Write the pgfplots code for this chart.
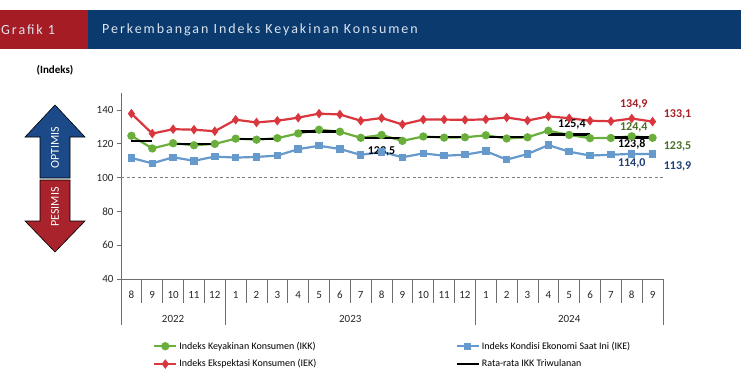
\documentclass[border=0pt]{standalone}
\usepackage{fontspec}
\setmainfont{Carlito}
\newfontfamily\titlefont[LetterSpace=14]{Carlito}
\usepackage{pgfplots}
\pgfplotsset{compat=1.18}
\usepackage{pgfplotstable}

\definecolor{hdrblue}{HTML}{0B3A6E}
\definecolor{hdrred}{HTML}{A51C24}
\definecolor{hdrtext}{HTML}{DCE5F0}
\definecolor{arrowblue}{HTML}{1C4A88}
\definecolor{arrowred}{HTML}{A8232B}
\definecolor{ikk}{HTML}{6AAE3C}
\definecolor{iek}{HTML}{D9363E}
\definecolor{ike}{HTML}{6699CC}
\definecolor{lblred}{HTML}{A81E28}
\definecolor{lblgreen}{HTML}{4A6E26}
\definecolor{lblblue}{HTML}{1F3F75}
\definecolor{axisgray}{HTML}{6E6E6E}

\pgfplotstableread{
i ikk iek ike
0 124.7 137.8 111.6
1 117.2 126.0 108.4
2 120.3 128.6 112.0
3 119.1 128.3 109.9
4 119.9 127.4 112.4
5 123.0 134.2 111.8
6 122.4 132.6 112.2
7 123.3 133.6 113.0
8 126.1 135.4 116.8
9 128.3 137.8 118.8
10 127.1 137.3 116.9
11 123.5 133.6 113.4
12 125.2 135.2 115.2
13 121.7 131.4 112.0
14 124.3 134.3 114.3
15 123.6 134.3 112.9
16 123.8 134.1 113.5
17 125.0 134.4 115.6
18 123.1 135.5 110.6
19 123.8 133.7 113.9
20 127.7 136.2 119.2
21 125.2 135.1 115.3
22 123.3 133.6 113.0
23 123.4 133.3 113.5
24 124.4 134.9 114.0
25 123.5 133.1 113.9
}\datatable

\pgfplotstableread{
i avg
0 121.7
1 121.7
1.5 nan
2 119.8
4 119.8
4.5 nan
5 122.9
7 122.9
7.5 nan
8 127.2
10 127.2
10.5 nan
11 123.5
13 123.5
13.5 nan
14 123.9
16 123.9
16.5 nan
17 124.0
19 124.0
19.5 nan
20 125.4
22 125.4
22.5 nan
23 123.8
25 123.8
}\avgtable

\begin{document}
\begin{tikzpicture}[x=1pt,y=1pt]
\path[use as bounding box] (0,0) rectangle (741,-373);
\fill[hdrblue] (0,-10) rectangle (741,-49);
\fill[hdrred] (0,-10) rectangle (88,-49);
\node[anchor=west, text=hdrtext, inner sep=0pt, font=\titlefont\fontsize{14}{16}\selectfont] at (1,-30) {Grafik 1};
\node[anchor=west, text=hdrtext, inner sep=0pt, font=\titlefont\fontsize{14}{16}\selectfont] at (102,-30) {Perkembangan Indeks Keyakinan Konsumen};
\node[font=\bfseries\fontsize{11}{13}\selectfont] at (55,-70) {(Indeks)};

\draw[black, line width=0.6pt, fill=arrowblue] (55,-105) -- (85,-137) -- (70,-137) -- (70,-178) -- (40,-178) -- (40,-137) -- (25,-137) -- cycle;
\draw[black, line width=0.6pt, fill=arrowred] (40,-180) -- (70,-180) -- (70,-221) -- (85,-221) -- (55,-252) -- (25,-221) -- (40,-221) -- cycle;
\node[rotate=90, text=white, font=\fontsize{12}{14}\selectfont] at (55,-148) {OPTIMIS};
\node[rotate=90, text=white, font=\fontsize{12}{14}\selectfont] at (55,-207) {PESIMIS};

\begin{axis}[
  at={(121pt,-279pt)}, anchor=south west,
  scale only axis, width=542pt, height=186pt,
  xmin=-0.5, xmax=25.5, ymin=40, ymax=150,
  axis x line*=bottom, axis y line*=left,
  axis line style={draw=axisgray, line width=0.8pt},
  tick align=outside, major tick length=4pt,
  ytick={40,60,...,140},
  yticklabel style={font=\fontsize{11}{13}\selectfont, text=black!85},
  ytick style={draw=axisgray, line width=0.8pt},
  xtick={0,...,25},
  xticklabels={8,9,10,11,12,1,2,3,4,5,6,7,8,9,10,11,12,1,2,3,4,5,6,7,8,9},
  major x tick style={draw=none},
  xticklabel style={font=\fontsize{11}{13}\selectfont, text=black!85, anchor=center, yshift=-12pt},
  minor xtick={0.5,1.5,...,24.5},
  minor tick length=24pt,
  minor x tick style={draw=axisgray, line width=0.8pt},
  /pgf/number format/assume math mode=true,
  unbounded coords=jump,
  clip=false,
  legend columns=2,
  legend cell align=left,
  legend style={at={(0.0535,-0.315)}, anchor=north west, draw=none, fill=none,
    font=\fontsize{10}{12}\selectfont, row sep=5pt,
    /tikz/every even column/.append style={column sep=137pt}},
  legend image code/.code={\draw[mark repeat=2,mark phase=2,#1] plot coordinates {(0pt,0pt) (11pt,0pt) (22pt,0pt)};},
]
\draw[gray, dashed, line width=0.8pt, dash pattern=on 3pt off 2.5pt] (axis cs:-0.5,100) -- (axis cs:25.5,100);

\addplot[ikk, line width=2.2pt, mark=*, mark size=3pt] table[x=i, y=ikk] {\datatable};
\addlegendentry{Indeks Keyakinan Konsumen (IKK)}
\addplot[ike, line width=2.2pt, mark=square*, mark size=2.6pt] table[x=i, y=ike] {\datatable};
\addlegendentry{Indeks Kondisi Ekonomi Saat Ini (IKE)}
\addplot[iek, line width=2.2pt, mark=diamond*, mark size=3pt] table[x=i, y=iek] {\datatable};
\addlegendentry{Indeks Ekspektasi Konsumen (IEK)}
\addplot[black, line width=2.6pt, no marks] table[x=i, y=avg] {\avgtable};
\addlegendentry{Rata-rata IKK Triwulanan}

\draw[axisgray, line width=0.8pt] (axis cs:-0.5,40) -- ++(0pt,-46pt);
\draw[axisgray, line width=0.8pt] (axis cs:4.5,40) -- ++(0pt,-46pt);
\draw[axisgray, line width=0.8pt] (axis cs:16.5,40) -- ++(0pt,-46pt);
\draw[axisgray, line width=0.8pt] (axis cs:25.5,40) -- ++(0pt,-46pt);

\node[font=\fontsize{11}{13}\selectfont, text=black!85] at ([yshift=-40pt]axis cs:2,40) {2022};
\node[font=\fontsize{11}{13}\selectfont, text=black!85] at ([yshift=-40pt]axis cs:10.5,40) {2023};
\node[font=\fontsize{11}{13}\selectfont, text=black!85] at ([yshift=-40pt]axis cs:21,40) {2024};

\node[font=\bfseries\fontsize{12}{14}\selectfont, text=black] at (axis cs:12,115.6) {123,5};
\node[font=\bfseries\fontsize{12}{14}\selectfont, text=black] at (axis cs:21.13,131.7) {125,4};
\node[font=\bfseries\fontsize{12}{14}\selectfont, text=lblred] at (axis cs:24.1,143.5) {134,9};
\node[font=\bfseries\fontsize{12}{14}\selectfont, text=lblgreen] at (axis cs:24.1,129.5) {124,4};
\node[font=\bfseries\fontsize{12}{14}\selectfont, text=black] at (axis cs:24.0,119.7) {123,8};
\node[font=\bfseries\fontsize{12}{14}\selectfont, text=lblblue] at (axis cs:24.0,108.4) {114,0};
\node[font=\bfseries\fontsize{12}{14}\selectfont, text=lblred] at (axis cs:26.2,137.6) {133,1};
\node[font=\bfseries\fontsize{12}{14}\selectfont, text=lblgreen] at (axis cs:26.2,118.7) {123,5};
\node[font=\bfseries\fontsize{12}{14}\selectfont, text=lblblue] at (axis cs:26.2,106.8) {113,9};
\end{axis}
\end{tikzpicture}
\end{document}
